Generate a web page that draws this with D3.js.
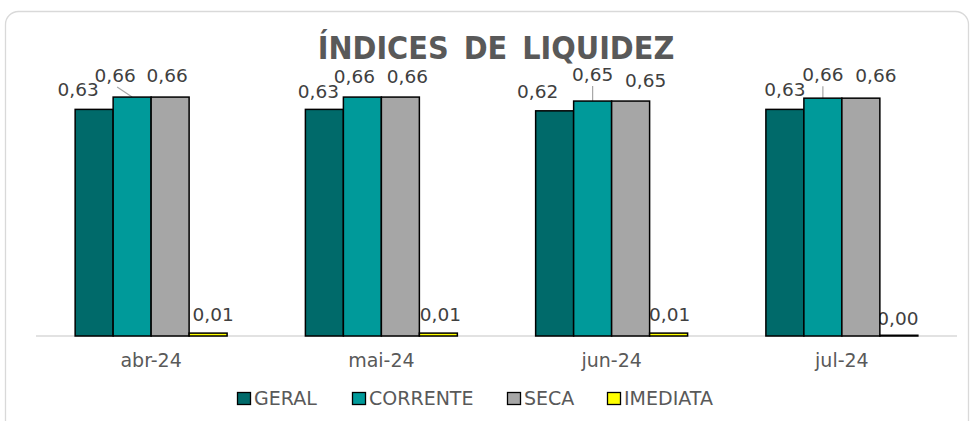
<!DOCTYPE html>
<html>
<head>
<meta charset="utf-8">
<script src="https://cdn.jsdelivr.net/npm/d3@7"></script>
<style>
  body { margin: 0; background: #fff; }
  svg { display: block; }
</style>
</head>
<body>
<script>
// chart values
var categories = ["abr-24", "mai-24", "jun-24", "jul-24"];
var seriesNames = ["GERAL", "CORRENTE", "SECA", "IMEDIATA"];
var geral    = [0.626, 0.626, 0.622, 0.626];
var corrente = [0.660, 0.660, 0.649, 0.657];
var seca     = [0.660, 0.660, 0.649, 0.657];
var imediata = [0.008, 0.008, 0.008, 0.002];

var colors = ["#006a6a", "#009a9a", "#a6a6a6", "#ffff00"];

// where Excel had the labels dragged to (dx from bar centre, gap above bar top)
var labelDx = [[-16, -6, -17, 0], [-17, -8, 0, 0], [-3, 7, 15, 15], [5, 2, 1, -1]];
var labelGap = [[13, 11, 13, 13], [15, 14, 20, 17], [15, 14, 14, 16], [12, 12, 12, 10]];
var leader = [[0, 0, 0, 0], [1, 0, 1, 1], [0, 0, 0, 0], [0, 0, 0, 0]];

var W = 973, H = 421;
var x0 = 36, x1 = 957, baseY = 336;

var svg = d3.select("body").append("svg")
    .attr("width", W)
    .attr("height", H);

svg.append("rect")
    .attr("x", 5.5).attr("y", 11.5)
    .attr("width", 963).attr("height", 440)
    .attr("rx", 13)
    .attr("fill", "#fff")
    .attr("stroke", "#d9d9d9")
    .attr("stroke-width", 1.3);

svg.append("text")
    .attr("x", 496).attr("y", 59)
    .attr("text-anchor", "middle")
    .attr("font-family", "'DejaVu Sans Condensed', 'DejaVu Sans', sans-serif")
    .attr("font-stretch", "condensed")
    .attr("font-weight", "bold")
    .attr("font-size", 32)
    .attr("fill", "#595959")
    .attr("word-spacing", 5)
    .text("ÍNDICES DE LIQUIDEZ");

var xScale = d3.scaleBand()
    .domain(categories)
    .range([x0, x1])
    .paddingInner(0.34)
    .paddingOuter(0.17);

var xSeries = d3.scaleBand()
    .domain(seriesNames)
    .range([0, xScale.bandwidth()]);

var yScale = d3.scaleLinear()
    .domain([0, 0.7])
    .range([baseY, baseY - 0.7 * 362]);

var table = [];
var allSeries = [geral, corrente, seca, imediata];
categories.forEach(function(c, ci) {
    seriesNames.forEach(function(s, si) {
        table.push({ cat: c, ci: ci, series: s, si: si, value: allSeries[si][ci] });
    });
});

var fmt = function(v) { return d3.format(".2f")(v).replace(".", ","); };
var cx = function(d) { return xScale(d.cat) + xSeries(d.series) + xSeries.bandwidth() / 2; };

// labels go under the bars (the 0,00 one is clipped by the grey bar in the original)
var lbl = svg.append("g").selectAll("g")
    .data(table)
    .enter().append("g");

lbl.filter(function(d) { return leader[d.si][d.ci]; })
    .append("line")
    .attr("x1", function(d) { return cx(d) + labelDx[d.si][d.ci] + (labelDx[d.si][d.ci] < 0 ? 2 : 0); })
    .attr("y1", function(d) { return yScale(d.value) - labelGap[d.si][d.ci] + 5; })
    .attr("x2", function(d) { return cx(d); })
    .attr("y2", function(d) { return yScale(d.value); })
    .attr("stroke", "#a6a6a6")
    .attr("stroke-width", 1.2);

lbl.append("text")
    .attr("x", function(d) { return cx(d) + labelDx[d.si][d.ci]; })
    .attr("y", function(d) { return yScale(d.value) - labelGap[d.si][d.ci]; })
    .attr("text-anchor", "middle")
    .attr("font-family", "'DejaVu Sans', Verdana, sans-serif")
    .attr("font-size", 18.5)
    .attr("fill", "#404040")
    .text(function(d) { return fmt(d.value); });

svg.append("line")
    .attr("x1", x0).attr("x2", x1)
    .attr("y1", baseY).attr("y2", baseY)
    .attr("stroke", "#d9d9d9")
    .attr("stroke-width", 1.5);

svg.append("g").selectAll("rect")
    .data(table)
    .enter().append("rect")
    .attr("x", function(d) { return xScale(d.cat) + xSeries(d.series); })
    .attr("y", function(d) { return yScale(d.value); })
    .attr("width", xSeries.bandwidth())
    .attr("height", function(d) { return baseY - yScale(d.value); })
    .attr("fill", function(d) { return colors[d.si]; })
    .attr("stroke", "#000")
    .attr("stroke-width", 1.5);

var xAxis = svg.append("g")
    .attr("transform", "translate(0," + baseY + ")")
    .call(d3.axisBottom(xScale).tickSize(0).tickPadding(18));
xAxis.select(".domain").remove();
xAxis.selectAll("text")
    .attr("font-family", "'DejaVu Sans', Verdana, sans-serif")
    .attr("font-size", 19)
    .attr("fill", "#595959");

// legend
var legendX = [237, 352, 507, 607];
var leg = svg.append("g").selectAll("g")
    .data(seriesNames)
    .enter().append("g")
    .attr("transform", function(d, i) { return "translate(" + legendX[i] + ",392)"; });

leg.append("rect")
    .attr("x", 0.5).attr("y", 0.5)
    .attr("width", 13).attr("height", 12)
    .attr("fill", function(d, i) { return colors[i]; })
    .attr("stroke", "#000")
    .attr("stroke-width", 1.3);

leg.append("text")
    .attr("x", 17).attr("y", 13)
    .attr("font-family", "'DejaVu Sans', Verdana, sans-serif")
    .attr("font-size", 19)
    .attr("fill", "#595959")
    .text(function(d) { return d; });
</script>
</body>
</html>
